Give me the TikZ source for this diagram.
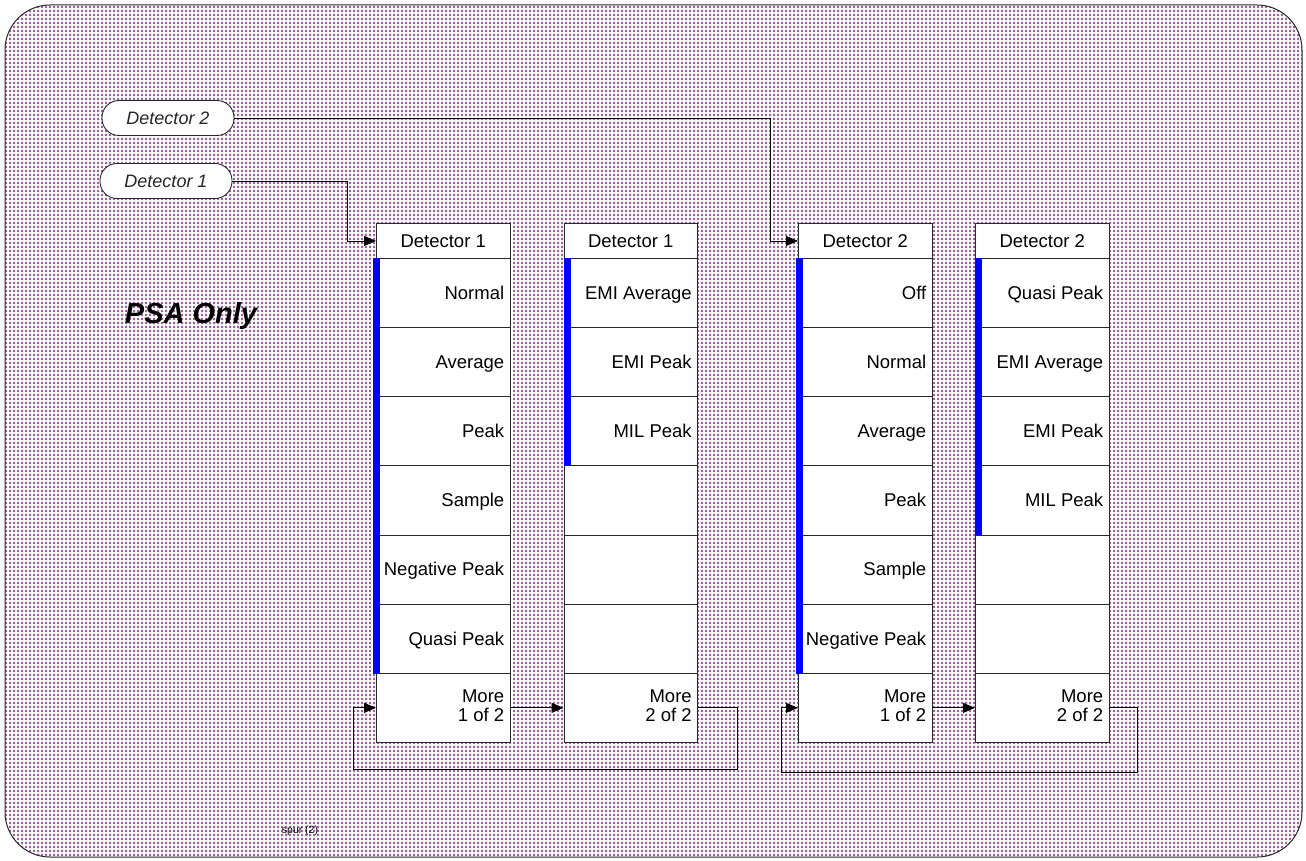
\documentclass[tikz,border=0pt]{standalone}
\usepackage{fontspec}
\setmainfont{Liberation Sans}
\usetikzlibrary{calc,patterns,arrows.meta}
\definecolor{purp}{RGB}{128,0,128}
\definecolor{barblue}{RGB}{0,0,255}
\definecolor{edge}{RGB}{40,40,40}
\pgfdeclarepatternformonly{pdots}{\pgfpointorigin}{\pgfqpoint{4.4pt}{4.4pt}}{\pgfqpoint{4.4pt}{4.4pt}}{%
  \pgfpathrectangle{\pgfqpoint{1.5pt}{1.0pt}}{\pgfqpoint{1.45pt}{2.5pt}}\pgfusepath{fill}}
\tikzset{
  hdr/.style={draw=edge, line width=0.9pt, fill=white, minimum width=133.5pt, minimum height=35pt, inner sep=0pt},
  rowbox/.style={draw=edge, line width=0.9pt, fill=white, minimum width=133.5pt, minimum height=69.14pt, inner sep=0pt},
  rowtxt/.style={inner sep=0pt, font=\fontsize{18.5}{20}\selectfont},
  oval/.style={draw=edge, line width=0.9pt, fill=white, rounded corners=17pt, minimum width=132pt, minimum height=35pt, inner sep=0pt, font=\fontsize{18}{20}\selectfont\itshape, text=black!85},
  conn/.style={draw=black, line width=0.8pt},
  arr/.style={conn, -{Triangle[length=12pt,width=10pt]}},
  bar/.style={fill=barblue},
}
% #1 name, #2 left x, #3 title, #4 six items, #5 page number
\newcommand{\softmenu}[5]{%
  \node[hdr, anchor=north west] (#1h) at (#2,223) {};
  \node[rowtxt, anchor=base] (#1ht) at ($(#1h.center)+(0,6.3)$) {#3};
  \foreach \t [count=\i] in {#4} {
    \pgfmathsetmacro\ytop{258+69.14*(\i-1)}
    \node[rowbox, anchor=north west] (#1r\i) at (#2,\ytop) {};
    \node[rowtxt, anchor=base east] (#1t\i) at ($(#1r\i.east)+(-6,6.3)$) {\t};
  }
  \node[rowbox, anchor=north west] (#1r7) at (#2,672.84) {};
  \node[rowtxt, anchor=base east] (#1m) at ($(#1r7.east)+(-6,-5.3)$) {More};
  \node[rowtxt, anchor=base east] (#1p) at ($(#1r7.east)+(-6,13.7)$) {#5 of 2};
}
\begin{document}
\begin{tikzpicture}[x=1pt,y=-1pt]
\useasboundingbox (0,0) rectangle (1306,861);
\fill[white] (0,0) rectangle (1306,861);
\fill[pattern=pdots, pattern color=purp] [rounded corners=45pt] (5,5) rectangle (1302,857);
\draw[edge, line width=1pt, rounded corners=45pt] (5,5) rectangle (1302,857);

\node[oval] (d2) at (168,118) {Detector 2};
\node[oval] (d1) at (166,181) {Detector 1};

\node[font=\fontsize{29}{32}\selectfont\bfseries\itshape, inner sep=0pt] (psa) at (191,316) {PSA Only};
\node[font=\fontsize{10.5}{12}\selectfont, inner sep=0pt] (spur) at (300,831) {spur (2)};

\softmenu{ma}{376}{Detector 1}{Normal,Average,Peak,Sample,Negative Peak,Quasi Peak}{1}
\softmenu{mb}{563.5}{Detector 1}{EMI Average,EMI Peak,MIL Peak,{},{},{}}{2}
\softmenu{mc}{798}{Detector 2}{Off,Normal,Average,Peak,Sample,Negative Peak}{1}
\softmenu{md}{975}{Detector 2}{Quasi Peak,EMI Average,EMI Peak,MIL Peak,{},{}}{2}

% selection bars
\fill[bar] ($(mar1.north west)+(-3.3,0)$) rectangle ($(mar6.south west)+(4,0)$);
\fill[bar] (mbr1.north west) rectangle ($(mbr3.south west)+(7.3,0)$);
\fill[bar] ($(mcr1.north west)+(-2.3,0)$) rectangle ($(mcr6.south west)+(4.7,0)$);
\fill[bar] (mdr1.north west) rectangle ($(mdr4.south west)+(7,0)$);

% connectors from the keys
\coordinate (k1) at (347,0);
\coordinate (k2) at (770,0);
\draw[arr] (d1.east) -| (k1 |- mah.west) -- (mah.west);
\draw[arr] (d2.east) -| (k2 |- mch.west) -- (mch.west);

% page loops
\draw[arr] (mar7.east) -- (mbr7.west);
\draw[arr] (mcr7.east) -- (mdr7.west);
\coordinate (la1) at (737,769);
\coordinate (la2) at (353,769);
\coordinate (lb1) at (1137,772);
\coordinate (lb2) at (781,772);
\draw[arr] (mbr7.east) -| (la1) -- (la2) |- (mar7.west);
\draw[arr] (mdr7.east) -| (lb1) -- (lb2) |- (mcr7.west);
\end{tikzpicture}
\end{document}
